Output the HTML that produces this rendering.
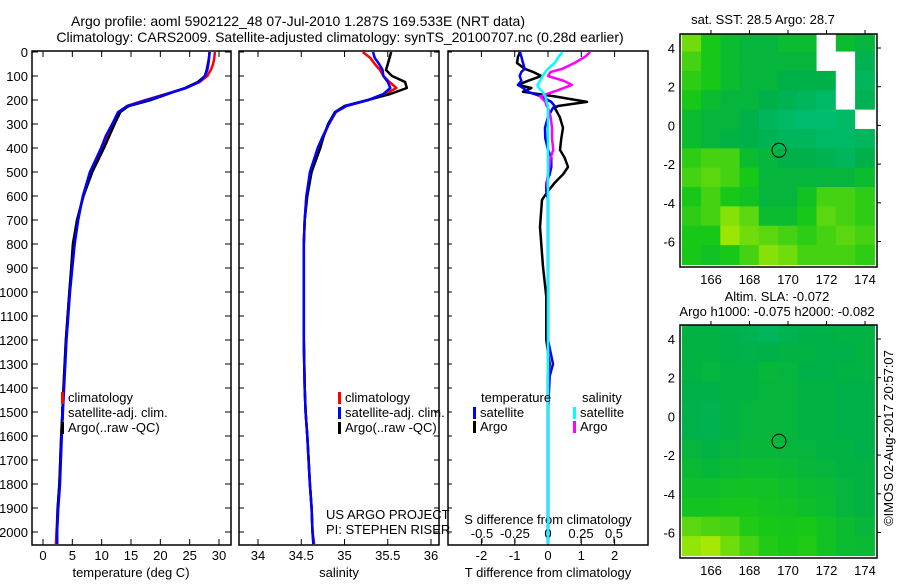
<!DOCTYPE html>
<html><head><meta charset="utf-8"><style>
body{margin:0;background:#fff}
svg text{font-family:"Liberation Sans",sans-serif;font-size:13px;fill:#000}
svg text.t{font-size:14px}
</style></head><body>
<svg id="c" width="900" height="580" xmlns="http://www.w3.org/2000/svg">
<text class="t" x="298" y="26" text-anchor="middle">Argo profile: aoml 5902122_48 07-Jul-2010 1.287S 169.533E (NRT data)</text>
<text class="t" x="340" y="42" text-anchor="middle">Climatology: CARS2009. Satellite-adjusted climatology: synTS_20100707.nc (0.28d earlier)</text>
<text x="763" y="24" text-anchor="middle">sat. SST: 28.5 Argo: 28.7</text>
<text x="777" y="301" text-anchor="middle">Altim. SLA: -0.072</text>
<text x="777" y="316" text-anchor="middle">Argo h1000: -0.075 h2000: -0.082</text>
<text transform="translate(893,438) rotate(-90)" text-anchor="middle">©IMOS 02-Aug-2017 20:57:07</text>
<g id="plots"></g>
</svg>
<script>
// ---- data ----
const depths=[0,25,50,75,100,125,150,175,200,225,250,300,350,400,500,600,700,800,900,1000,1200,1400,1500,1600,1800,1900,2000,2050];
const tClim=[29.3,29.2,29.0,28.6,28.0,26.7,24.3,21.0,17.5,14.3,12.9,11.9,10.9,10.0,8.1,6.8,5.9,5.3,4.9,4.5,3.9,3.5,3.3,3.1,2.8,2.5,2.3,2.2];
const tSat=[28.4,28.3,28.2,28.0,27.6,26.6,24.4,21.1,17.8,14.4,12.8,11.8,10.7,9.9,8.0,6.8,6.0,5.4,5.0,4.6,4.0,3.6,3.4,3.2,2.9,2.6,2.4,2.4];
const tArgo=[28.4,28.3,28.1,27.9,27.6,26.4,24.2,21.3,18.4,14.6,13.2,12.2,11.3,10.4,8.4,6.9,5.8,5.1,4.8,4.5,3.9,3.5,3.3,3.1,2.8,2.5,2.4,2.4];
const sClim=[35.21,35.30,35.35,35.41,35.45,35.52,35.60,35.47,35.28,35.02,34.90,34.82,34.76,34.70,34.61,34.56,34.54,34.53,34.53,34.53,34.53,34.54,34.55,34.57,34.60,34.62,34.63,34.65];
const sSat=[35.33,35.35,35.40,35.44,35.45,35.50,35.53,35.45,35.27,35.02,34.90,34.82,34.75,34.69,34.60,34.56,34.54,34.53,34.53,34.53,34.53,34.54,34.55,34.57,34.60,34.62,34.63,34.64];
const sArgo=[35.54,35.52,35.50,35.48,35.55,35.70,35.72,35.53,35.27,35.00,34.89,34.81,34.76,34.72,34.62,34.57,34.54,34.53,34.53,34.53,34.53,34.54,34.55,34.57,34.60,34.62,34.63,34.64];
const dDepths=[0,20,46,70,83,100,120,137,150,166,185,208,225,233,270,316,360,408,440,479,510,545,580,616,729,895,1020,1200,1300,1350,1500,2050];
const dtArgo=[-0.84,-0.9,-0.93,-0.7,-0.45,-0.2,-0.6,-0.9,-0.5,-0.75,0.2,1.17,0.3,0.2,0.35,0.45,0.4,0.36,0.5,0.6,0.45,0.2,0.0,-0.18,-0.24,-0.15,-0.05,-0.05,0.05,0.0,0.0,0.0];
const dtSat=[-0.84,-0.8,-0.75,-0.7,-0.8,-0.85,-0.8,-0.9,-0.75,-0.6,-0.2,0.1,0.2,0.15,0.0,-0.09,-0.08,0.0,0.1,0.1,0.05,-0.05,-0.05,0.0,0.0,0.0,0.0,0.0,0.15,0.05,0.0,0.0];
const dsArgo=[0.32,0.28,0.2,0.11,0.02,0.0,0.12,0.18,0.12,0.04,-0.06,-0.02,-0.01,0.0,0.02,0.03,0.03,0.04,0.02,0.01,0.0,-0.01,0.0,0.0,0.0,0.0,0.0,0.0,0.0,0.0,0.0,0.0];
const dsSat=[0.11,0.08,0.05,0.0,-0.02,-0.04,-0.06,-0.08,-0.07,-0.04,-0.02,-0.01,0.0,0.0,0.0,0.0,0.0,0.0,0.0,0.0,0.0,0.0,0.0,0.0,0.0,0.0,0.0,0.0,0.0,0.0,0.0,0.0];
const depthTicks=[0,100,200,300,400,500,600,700,800,900,1000,1100,1200,1300,1400,1500,1600,1700,1800,1900,2000];
const tTicks=[0,5,10,15,20,25,30];
const sTicks=[34,34.5,35,35.5,36];
const sTickLabels=["34","34.5","35","35.5","36"];
const dtTicks=[-2,-1,0,1,2];
const dsTicks=[-0.5,-0.25,0,0.25,0.5];
const latTicks=[4,2,0,-2,-4,-6];
const lonTicks=[166,168,170,172,174];
const sstGrid=[
[0.8,0.6,0.5,0.45,0.45,0.5,0.5,-1,0.5,0.45],
[0.7,0.6,0.5,0.45,0.45,0.45,0.45,-1,-1,0.35],
[0.65,0.6,0.5,0.45,0.45,0.4,0.4,0.4,-1,0.3],
[0.6,0.5,0.45,0.45,0.4,0.35,0.3,0.25,-1,0.35],
[0.5,0.45,0.45,0.4,0.3,0.25,0.2,0.2,0.25,-1],
[0.5,0.45,0.42,0.4,0.35,0.3,0.3,0.25,0.25,0.3],
[0.65,0.7,0.7,0.5,0.45,0.4,0.4,0.35,0.3,0.4],
[0.7,0.75,0.7,0.6,0.45,0.45,0.45,0.45,0.45,0.5],
[0.6,0.7,0.6,0.55,0.45,0.45,0.55,0.7,0.7,0.65],
[0.65,0.7,0.85,0.75,0.5,0.5,0.6,0.75,0.7,0.65],
[0.6,0.6,0.9,0.8,0.75,0.7,0.65,0.7,0.75,0.7],
[0.6,0.55,0.6,0.7,0.85,0.8,0.7,0.7,0.7,0.65]];
const slaGrid=[
[0.42,0.42,0.4,0.35,0.3,0.35,0.4,0.4,0.42,0.42],
[0.42,0.42,0.4,0.38,0.4,0.42,0.42,0.4,0.4,0.42],
[0.42,0.44,0.42,0.42,0.46,0.44,0.4,0.4,0.42,0.42],
[0.4,0.4,0.42,0.42,0.45,0.44,0.42,0.42,0.4,0.4],
[0.38,0.36,0.42,0.44,0.45,0.44,0.42,0.42,0.4,0.4],
[0.38,0.36,0.42,0.44,0.45,0.44,0.42,0.42,0.4,0.4],
[0.44,0.42,0.44,0.46,0.46,0.45,0.44,0.42,0.42,0.4],
[0.48,0.46,0.48,0.5,0.5,0.48,0.46,0.44,0.42,0.42],
[0.52,0.52,0.54,0.55,0.54,0.52,0.5,0.48,0.44,0.42],
[0.56,0.56,0.58,0.58,0.56,0.55,0.52,0.5,0.44,0.42],
[0.75,0.72,0.7,0.62,0.6,0.58,0.6,0.55,0.5,0.46],
[0.88,0.92,0.8,0.7,0.62,0.6,0.62,0.55,0.5,0.48]];
// ---- drawing ----
const NS='http://www.w3.org/2000/svg';
const root=document.getElementById('plots');
function mk(tag,attrs,parent){const e=document.createElementNS(NS,tag);for(const k in attrs)e.setAttribute(k,attrs[k]);(parent||root).appendChild(e);return e;}
function txt(x,y,s,anchor,parent){const e=mk('text',{x:x,y:y,'text-anchor':anchor||'middle'},parent);e.textContent=s;return e;}
const Y0=52,YPX=0.24,PT=51,PB=545;
const yD=d=>Y0+d*YPX;
const panels=[{x0:32,x1:231,name:'temperature-panel'},{x0:239,x1:439,name:'salinity-panel'},{x0:448,x1:648,name:'difference-panel'}];
const xT=v=>43+v*5.867, xS=v=>258+(v-34)*86.5, xDT=v=>548+v*33.3, xDS=v=>548+v*132;
panels.forEach(p=>{const r=mk('rect',{x:p.x0,y:PT,width:p.x1-p.x0,height:PB-PT,fill:'none',stroke:'#000','stroke-width':1.5});

});
depthTicks.forEach(d=>{mk('line',{x1:32,x2:38,y1:yD(d),y2:yD(d),stroke:'#000'});mk('line',{x1:225,x2:231,y1:yD(d),y2:yD(d),stroke:'#000'});
mk('line',{x1:239,x2:244,y1:yD(d),y2:yD(d),stroke:'#000'});mk('line',{x1:434,x2:439,y1:yD(d),y2:yD(d),stroke:'#000'});
mk('line',{x1:448,x2:452,y1:yD(d),y2:yD(d),stroke:'#000'});
const t=txt(28,yD(d)+5,String(d),'end');

});
function xticks(vals,labels,fx,ylab,top,bot){vals.forEach((v,i)=>{const x=fx(v);
mk('line',{x1:x,x2:x,y1:bot,y2:bot-6,stroke:'#000'});mk('line',{x1:x,x2:x,y1:top,y2:top+6,stroke:'#000'});
const t=txt(x,ylab,labels[i]);

});}
xticks(tTicks,tTicks.map(String),xT,560,PT,PB);
xticks(sTicks,sTickLabels,xS,560,PT,PB);
xticks(dtTicks,dtTicks.map(String),xDT,560,PT,PB);
dsTicks.forEach(v=>{const x=xDS(v);mk('line',{x1:x,x2:x,y1:PB-2,y2:PB-7,stroke:'#000'});
const t=txt(x,538,String(v));

});
txt(131,577,'temperature (deg C)');
txt(339,577,'salinity');
txt(548,577,'T difference from climatology');
txt(548,524,'S difference from climatology');
txt(326,519,'US ARGO PROJECT','start');
txt(326,534,'PI: STEPHEN RISER','start');
function line(ds,vals,fx,color,name,w){const pts=ds.map((d,i)=>fx(vals[i]).toFixed(1)+','+yD(d).toFixed(1)).join(' ');
const e=mk('polyline',{points:pts,fill:'none',stroke:color,'stroke-width':w||2.5,'stroke-linejoin':'round'});

}
line(depths,tClim,xT,'#f00','temperature-climatology-line');
line(depths,tArgo,xT,'#000','temperature-argo-line');
line(depths,tSat,xT,'#00f','temperature-satellite-line');
line(depths,sClim,xS,'#f00','salinity-climatology-line');
line(depths,sArgo,xS,'#000','salinity-argo-line');
line(depths,sSat,xS,'#00f','salinity-satellite-line');
line(dDepths,dtArgo,xDT,'#000','t-diff-argo-line');
line(dDepths,dtSat,xDT,'#00f','t-diff-satellite-line');
line(dDepths,dsArgo,xDS,'#f0f','s-diff-argo-line');
line(dDepths,dsSat,xDS,'#0ff','s-diff-satellite-line');
function leg(x,y,color,label,name){mk('rect',{x:x,y:y-10,width:3,height:12,fill:color});
const t=txt(x+7,y,label,'start');

}
leg(61,402,'#f00','climatology','legend-climatology');leg(61,417,'#00f','satellite-adj. clim.','legend-satellite');leg(61,432,'#000','Argo(..raw -QC)','legend-argo');
leg(338,402,'#f00','climatology','legend-climatology-2');leg(338,417,'#00f','satellite-adj. clim.','legend-satellite-2');leg(338,432,'#000','Argo(..raw -QC)','legend-argo-2');
txt(481,402,'temperature','start');
txt(582,402,'salinity','start');
leg(473,417,'#00f','satellite','legend-t-satellite');leg(473,431,'#000','Argo','legend-t-argo');
leg(573,417,'#0ff','satellite','legend-s-satellite');leg(573,431,'#f0f','Argo','legend-s-argo');
const stops=[[0,[0,200,150]],[0.4,[0,176,72]],[0.6,[24,200,24]],[1,[200,240,0]]];
function col(t){if(t<0)return '#fff';for(let i=1;i<stops.length;i++){if(t<=stops[i][0]){const a=stops[i-1],b=stops[i],f=(t-a[0])/(b[0]-a[0]);
return 'rgb('+a[1].map((c,j)=>Math.round(c+(b[1][j]-c)*f)).join(',')+')';}}return 'rgb(200,240,0)';}
function drawMap(top,lat4y,grid,name){const xL=v=>711+(v-166)*19.25, yL=v=>lat4y+(4-v)*19.35;
const g=mk('g',{});
const bottom=top+233;
const cp=mk('clipPath',{id:'cp'+top},g);mk('rect',{x:680,y:top,width:197,height:233},cp);
const cg=mk('g',{'clip-path':'url(#cp'+top+')'},g);
grid.forEach((row,r)=>row.forEach((v,c)=>{const lon=164.5+c, lat=4.8-r;
const cell=mk('rect',{x:xL(lon)-0.3,y:yL(lat)-0.3,width:19.85,height:19.95,fill:col(v)},cg);

}));
mk('circle',{cx:xL(169.533),cy:yL(-1.287),r:7,fill:'none',stroke:'#000','stroke-width':1},g);
mk('rect',{x:680,y:top,width:197,height:233,fill:'none',stroke:'#000','stroke-width':1.5},g);
latTicks.forEach(v=>{const y=yL(v);mk('line',{x1:877,x2:881,y1:y,y2:y,stroke:'#000'},g);
const t=txt(675,y+5,String(v),'end',g);});
lonTicks.forEach(v=>{const x=xL(v);mk('line',{x1:x,x2:x,y1:top,y2:top-4,stroke:'#000'},g);
const t=txt(x,bottom+17,String(v),'middle',g);});}
drawMap(34,48,sstGrid,'sst-map');
drawMap(325,339,slaGrid,'sla-map');
</script>
</body></html>
